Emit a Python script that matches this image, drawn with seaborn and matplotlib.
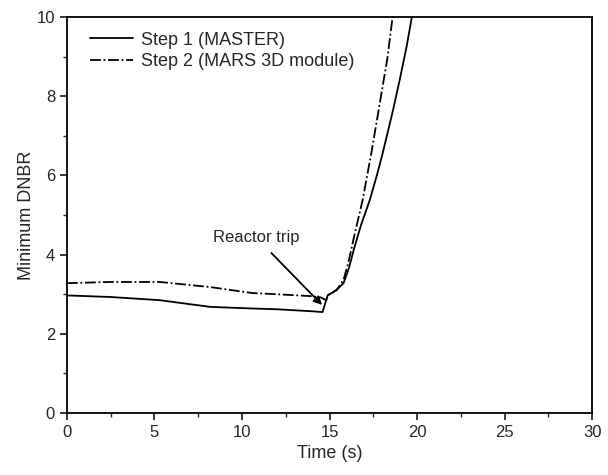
import numpy as np
import pandas as pd
import matplotlib
matplotlib.use("Agg")
import matplotlib.pyplot as plt
import seaborn as sns
from matplotlib.ticker import MultipleLocator

# Step 1 (MASTER)
t1 = [0, 2.5, 5.3, 8.2, 10.6, 12, 14, 14.6, 14.9, 15.2, 15.5, 15.8, 16.1, 16.4, 16.8, 17.3, 17.7, 18.0, 18.3, 18.6, 19.0, 19.4, 19.7]
d1 = [2.97, 2.93, 2.85, 2.68, 2.64, 2.62, 2.57, 2.55, 2.98, 3.05, 3.15, 3.28, 3.65, 4.15, 4.75, 5.38, 6.0, 6.5, 7.05, 7.6, 8.4, 9.25, 10.0]
# Step 2 (MARS 3D module)
t2 = [0, 2.5, 5.3, 8.2, 10.6, 12, 14, 14.5, 14.8, 15.0, 15.4, 15.8, 16.1, 16.4, 16.9, 17.4, 17.9, 18.3, 18.6]
d2 = [3.28, 3.31, 3.31, 3.18, 3.03, 3.0, 2.95, 2.92, 2.85, 3.0, 3.1, 3.36, 3.85, 4.45, 5.4, 6.6, 7.9, 8.95, 10.0]

labels = ["Step 1 (MASTER)", "Step 2 (MARS 3D module)"]

df = pd.concat([
    pd.DataFrame({"Time": t1, "DNBR": d1, "Case": labels[0]}),
    pd.DataFrame({"Time": t2, "DNBR": d2, "Case": labels[1]}),
])

sns.set_style("ticks")
plt.rcParams["font.family"] = ["Liberation Sans", "DejaVu Sans"]

fig = plt.figure(figsize=(6.08, 4.75), dpi=100)
ax = fig.add_axes([0.110, 0.1305, 0.864, 0.8335])

sns.lineplot(data=df, x="Time", y="DNBR", hue="Case", style="Case",
             palette=["black", "black"], dashes=[(None, None), (6, 1.5, 1, 1.5)],
             linewidth=1.3, sort=False, estimator=None, ax=ax)
lines = ax.get_lines()
lines[0].set_linestyle("-")
lines[1].set_linestyle((0, (6, 1.5, 1, 1.5)))

ax.set_xlim(0, 30)
ax.set_ylim(0, 10)
ax.xaxis.set_major_locator(MultipleLocator(5))
ax.xaxis.set_minor_locator(MultipleLocator(2.5))
ax.yaxis.set_major_locator(MultipleLocator(2))
ax.yaxis.set_minor_locator(MultipleLocator(1))
ax.tick_params(which="major", length=5, width=1.3, labelsize=12, direction="out")
ax.tick_params(which="minor", length=3, width=1.0, direction="out")
for s in ax.spines.values():
    s.set_linewidth(1.3)
    s.set_color("black")

ax.set_xlabel("Time (s)", fontsize=13)
ax.set_ylabel("Minimum DNBR", fontsize=13, labelpad=1)

ax.annotate("Reactor trip", xy=(14.57, 2.73), xytext=(10.8, 4.44),
            ha="center", va="center", fontsize=12,
            arrowprops=dict(arrowstyle="-|>", color="black", lw=1.3,
                            shrinkA=5, shrinkB=0, mutation_scale=12))

leg = ax.legend(loc="upper left", frameon=False, fontsize=13,
                handlelength=2.4, handletextpad=0.4, labelspacing=0.25,
                bbox_to_anchor=(0.013, 1.004))
for h in leg.get_lines():
    h.set_color("black")

fig.savefig("out.png", dpi=100)
